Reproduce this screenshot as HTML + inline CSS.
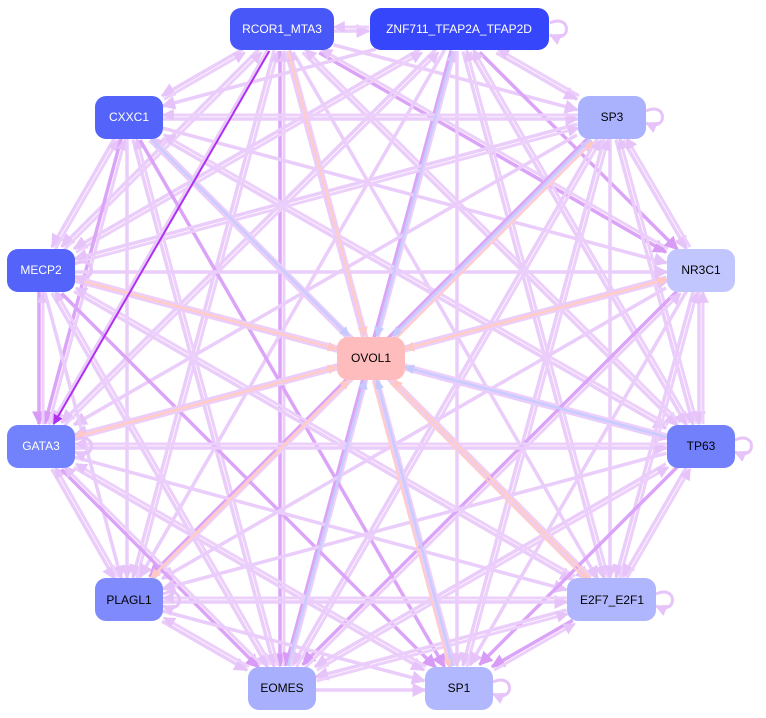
<!DOCTYPE html>
<html><head><meta charset="utf-8"><style>
html,body{margin:0;padding:0;background:#fff;}
svg{display:block;font-family:"Liberation Sans",Arial,sans-serif;}
</style></head><body>
<svg id="g" width="766" height="718" viewBox="0 0 766 718" xmlns="http://www.w3.org/2000/svg">
<defs>
<marker id="mL" viewBox="0 0 10 10" refX="9" refY="5" markerWidth="4" markerHeight="4" orient="auto"><path d="M0,0L10,5L0,10z" fill="#e6c4fa"/></marker>
<marker id="mD" viewBox="0 0 10 10" refX="9" refY="5" markerWidth="4" markerHeight="4" orient="auto"><path d="M0,0L10,5L0,10z" fill="#d89cf6"/></marker>
<marker id="mB" viewBox="0 0 10 10" refX="9" refY="5" markerWidth="4" markerHeight="4" orient="auto"><path d="M0,0L10,5L0,10z" fill="#c4cafe"/></marker>
<marker id="mP" viewBox="0 0 10 10" refX="9" refY="5" markerWidth="4" markerHeight="4" orient="auto"><path d="M0,0L10,5L0,10z" fill="#ffc8c4"/></marker>
<marker id="mX" viewBox="0 0 10 10" refX="9" refY="5" markerWidth="5" markerHeight="5" orient="auto"><path d="M0,0L10,5L0,10z" fill="#b030f0"/></marker>
</defs>
<g id="edges"></g>
<g id="nodes" font-size="12" text-anchor="middle" dominant-baseline="central">
<rect x="230" y="8" width="104" height="42" rx="11" fill="#4858f8"/><text x="282" y="29" fill="#fff">RCOR1_MTA3</text>
<rect x="370" y="8" width="179" height="42" rx="11" fill="#3646fa"/><text x="459" y="29" fill="#fff">ZNF711_TFAP2A_TFAP2D</text>
<rect x="95" y="96" width="68" height="43" rx="11" fill="#5464fa"/><text x="129" y="117" fill="#fff">CXXC1</text>
<rect x="578" y="96" width="68" height="43" rx="11" fill="#aab2fe"/><text x="612" y="117" fill="#000">SP3</text>
<rect x="7" y="249" width="68" height="43" rx="11" fill="#5464fa"/><text x="41" y="270" fill="#fff">MECP2</text>
<rect x="667" y="249" width="68" height="43" rx="11" fill="#c2c6fe"/><text x="701" y="270" fill="#000">NR3C1</text>
<rect x="337" y="337" width="68" height="43" rx="11" fill="#ffbcbc"/><text x="371" y="358" fill="#000">OVOL1</text>
<rect x="7" y="425" width="68" height="43" rx="11" fill="#7282fc"/><text x="41" y="446" fill="#fff">GATA3</text>
<rect x="667" y="425" width="68" height="43" rx="11" fill="#7280fc"/><text x="701" y="446" fill="#000">TP63</text>
<rect x="95" y="578" width="68" height="43" rx="11" fill="#7f8afc"/><text x="129" y="600" fill="#000">PLAGL1</text>
<rect x="567" y="578" width="89" height="43" rx="11" fill="#b0b6fe"/><text x="612" y="600" fill="#000">E2F7_E2F1</text>
<rect x="248" y="667" width="68" height="43" rx="11" fill="#a8b0fe"/><text x="282" y="688" fill="#000">EOMES</text>
<rect x="425" y="667" width="68" height="43" rx="11" fill="#b2b8fe"/><text x="459" y="688" fill="#000">SP1</text>
</g>
</svg>
<script>
var N={R:[282,29,52],Z:[459,29,90],C:[129,117,34],S3:[612,117,34],M:[41,270,34],NR:[701,270,34],O:[371,358,34],G:[41,446,34],T:[701,446,34],P:[129,600,34],E:[612,600,45],EO:[282,688,34],S1:[459,688,34]};
var outer=["R","Z","C","S3","M","NR","G","T","P","E","EO","S1"];
var g=document.getElementById("edges"),ns="http://www.w3.org/2000/svg";
function clip(a,b){var dx=b[0]-a[0],dy=b[1]-a[1];var hw=b[2],hh=22;var t=Math.min(hw/Math.abs(dx||1e-6),hh/Math.abs(dy||1e-6));t=Math.min(t,1);return [b[0]-dx*t,b[1]-dy*t];}
function line(a,b,col,w,m,off){var A=N[a],B=N[b];var dx=B[0]-A[0],dy=B[1]-A[1],L=Math.hypot(dx,dy);var ox=-dy/L*off,oy=dx/L*off;
var s=clip([B[0],B[1],A[2]],A),e=clip(A,B);var l=document.createElementNS(ns,"line");
l.setAttribute("x1",s[0]+ox);l.setAttribute("y1",s[1]+oy);l.setAttribute("x2",e[0]+ox);l.setAttribute("y2",e[1]+oy);
l.setAttribute("stroke",col);l.setAttribute("stroke-width",w);l.setAttribute("marker-end","url(#"+m+")");g.appendChild(l);}
var k=0;
for(var i=0;i<outer.length;i++)for(var j=i+1;j<outer.length;j++){k++;
 var dark=(k%5==0);
 line(outer[i],outer[j],dark?"#dca4f8":"#eacdfa",3.5,dark?"mD":"mL",2);
 if(k%3!=0)line(outer[j],outer[i],"#eccffa",3,"mL",2);}
var toO={R:"mP",Z:"mB",C:"mB",S3:"mB",M:"mP",NR:"mP",G:"mP",T:"mB",P:"mP",E:"mP",EO:"mB",S1:"mB"};
outer.forEach(function(n){line(n,"O",toO[n]=="mP"?"#ffccc8":"#c8ccfe",2.5,toO[n],0);});
line("O","NR","#ffccc8",2.5,"mP",0);line("O","G","#ffccc8",2.5,"mP",0);line("O","P","#ffccc8",2.5,"mP",0);
line("O","S3","#ffccc8",2,"mP",4);line("O","S1","#ffccc8",2,"mP",4);line("O","E","#ffccc8",2,"mP",4);
line("R","G","#b030f0",2,"mX",0);
[["Z",550,29],["S3",646,117],["M",75,270],["G",75,446],["T",735,446],["P",163,600],["E",656,600],["S1",493,688]].forEach(function(q){
 var p=document.createElementNS(ns,"path");var x=q[1],y=q[2];
 p.setAttribute("d","M"+x+","+(y-6)+" C"+(x+22)+","+(y-16)+" "+(x+22)+","+(y+16)+" "+x+","+(y+6));
 p.setAttribute("fill","none");p.setAttribute("stroke","#e6c4fa");p.setAttribute("stroke-width",3);p.setAttribute("marker-end","url(#mL)");g.appendChild(p);});
</script>
</body></html>
